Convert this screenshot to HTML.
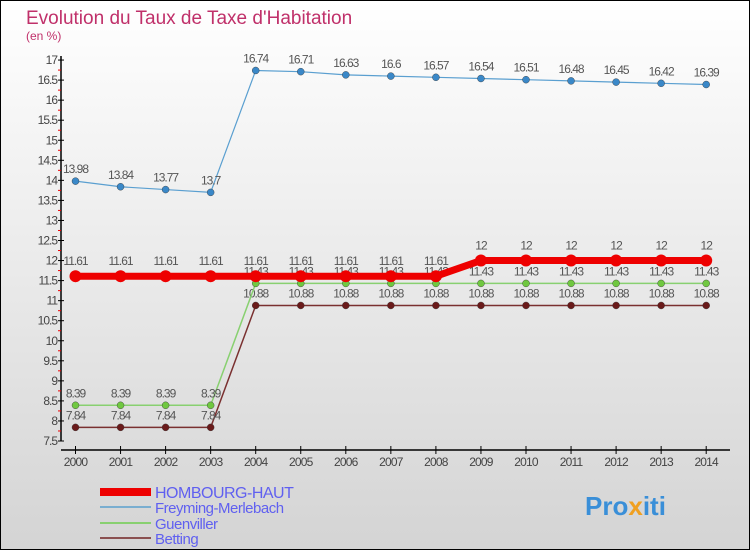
<!DOCTYPE html>
<html><head><meta charset="utf-8"><style>
body{margin:0}
svg{display:block;font-family:"Liberation Sans",sans-serif}
</style></head><body>
<svg id="c" width="750" height="550">
<defs><linearGradient id="bg" x1="0" y1="0" x2="0" y2="1"><stop offset="0" stop-color="#ffffff"/><stop offset="1" stop-color="#d4d4d4"/></linearGradient></defs>
<rect x="0.5" y="0.5" width="749" height="549" fill="url(#bg)" stroke="#000"/>
<text x="26" y="24" font-size="19" fill="#c0306a">Evolution du Taux de Taxe d'Habitation</text>
<text x="26" y="40" font-size="12" fill="#c0306a">(en %)</text>
<g id="axes"></g><g id="series"></g><g id="legend"></g>
<text x="585" y="515" font-size="26" font-weight="bold" fill="#3a8fd8">Pro<tspan fill="#f0a020">x</tspan>iti</text>
</svg>
<script>
const years=[2000,2001,2002,2003,2004,2005,2006,2007,2008,2009,2010,2011,2012,2013,2014];
const hombourg=[11.61,11.61,11.61,11.61,11.61,11.61,11.61,11.61,11.61,12,12,12,12,12,12];
const freyming=[13.98,13.84,13.77,13.7,16.74,16.71,16.63,16.6,16.57,16.54,16.51,16.48,16.45,16.42,16.39];
const guenviller=[8.39,8.39,8.39,8.39,11.43,11.43,11.43,11.43,11.43,11.43,11.43,11.43,11.43,11.43,11.43];
const betting=[7.84,7.84,7.84,7.84,10.88,10.88,10.88,10.88,10.88,10.88,10.88,10.88,10.88,10.88,10.88];
const yTicks=[7.5,8,8.5,9,9.5,10,10.5,11,11.5,12,12.5,13,13.5,14,14.5,15,15.5,16,16.5,17];
const seriesNames=["HOMBOURG-HAUT","Freyming-Merlebach","Guenviller","Betting"];
const NS="http://www.w3.org/2000/svg";
const x=i=>75.5+i*45.05;
const y=v=>441-(v-7.5)*40.1;
function mk(tag,at,parent){const e=document.createElementNS(NS,tag);for(const k in at)e.setAttribute(k,at[k]);parent.appendChild(e);return e;}
const ax=document.getElementById('axes');
let e=mk('line',{x1:61,y1:56,x2:61,y2:441,stroke:'#000','stroke-width':1.5},ax);

e=mk('line',{x1:61,y1:450,x2:730,y2:450,stroke:'#000','stroke-width':1.5},ax);

yTicks.forEach((t,i)=>{
 mk('line',{x1:58,y1:y(t),x2:64,y2:y(t),stroke:'#000'},ax);
 if(i<yTicks.length-1)mk('line',{x1:58,y1:y(t+0.25),x2:61,y2:y(t+0.25),stroke:'#e00'},ax);
 const tx=mk('text',{x:57,y:y(t)+4,'font-size':12,'text-anchor':'end',fill:'#444','letter-spacing':-1},ax);
 tx.textContent=t;
});
years.forEach((yr,i)=>{
 mk('line',{x1:x(i),y1:446,x2:x(i),y2:454,stroke:'#000'},ax);
 const tx=mk('text',{x:x(i),y:466,'font-size':12,'text-anchor':'middle',fill:'#444','letter-spacing':-0.8},ax);
 tx.textContent=yr;
});
const sg=document.getElementById('series');
const defs=[[betting,'#7a3030','#6a1a1a',1.5,3.5,'betting'],[guenviller,'#88d070','#70c840',1.5,3.5,'guenviller'],[freyming,'#5a9fd0','#3a88c8',1.2,3.5,'freyming-merlebach'],[hombourg,'#ee0000','#ee0000',7,6,'hombourg-haut']];
defs.forEach(([d,lc,pc,w,r,nm])=>{
 const g=mk('g',{},sg);
 const pl=mk('polyline',{points:d.map((v,i)=>x(i)+','+y(v)).join(' '),fill:'none',stroke:lc,'stroke-width':w},g);
 
 d.forEach((v,i)=>{
  const c=mk('circle',{cx:x(i),cy:y(v),r:r,fill:pc,stroke:nm==='hombourg-haut'?'none':'#333','stroke-width':0.4},g);
  
  const t=mk('text',{x:x(i),y:y(v)-(nm==='hombourg-haut'?11:8),'font-size':12,'text-anchor':'middle',fill:'#555','letter-spacing':-1},g);
  t.textContent=v;
 });
});
const lg=document.getElementById('legend');
const lcol=['#ee0000','#7aaed0','#88d070','#8a5050'],lw=[8,2,2,2],ly=[492,507,523,538];
seriesNames.forEach((n,i)=>{
 const g=mk('g',{},lg);
 mk('line',{x1:100,y1:ly[i],x2:151,y2:ly[i],stroke:lcol[i],'stroke-width':lw[i]},g);
 const t=mk('text',{x:155,y:ly[i]+6,'font-size':i==0?16:15,fill:'#6060f0','letter-spacing':-0.5},g);
 t.textContent=n;
});
</script>
</body></html>
